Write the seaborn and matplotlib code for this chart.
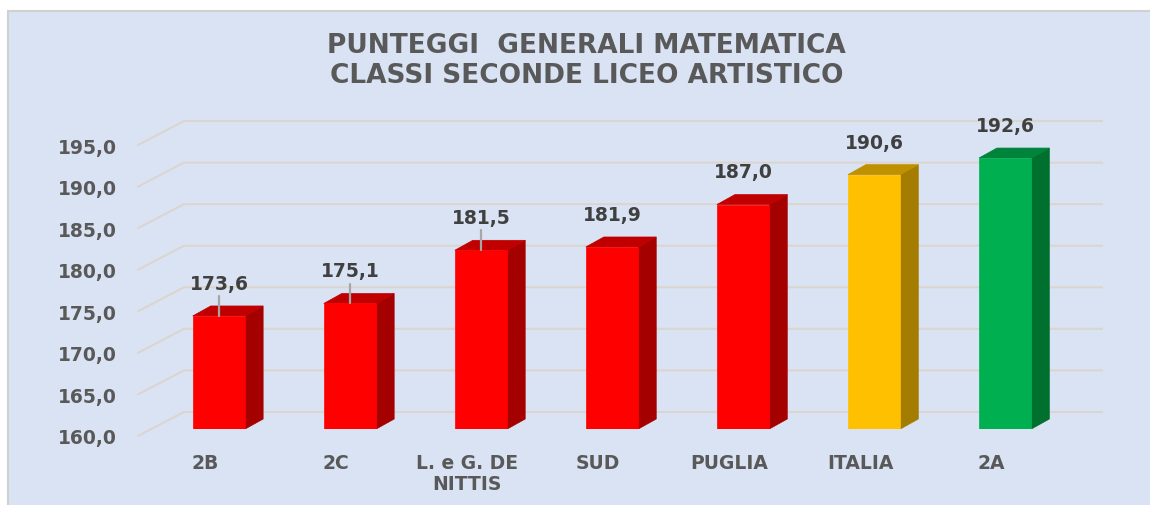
import pandas as pd
import matplotlib.pyplot as plt
import matplotlib.transforms as mtransforms
from matplotlib.patches import Polygon, Rectangle
import seaborn as sns

# Data
categories = ['2B', '2C', 'L. e G. DE\nNITTIS', 'SUD', 'PUGLIA', 'ITALIA', '2A']
scores = [173.6, 175.1, 181.5, 181.9, 187.0, 190.6, 192.6]
front_colors = ['#FF0000', '#FF0000', '#FF0000', '#FF0000', '#FF0000', '#FFC000', '#00B050']
side_colors = ['#A50000', '#A50000', '#A50000', '#A50000', '#A50000', '#A37C00', '#00702F']
top_colors = ['#C00000', '#C00000', '#C00000', '#C00000', '#C00000', '#BF9000', '#00843C']
leader_lines = [True, True, True, False, False, False, False]
y_ticks = [160, 165, 170, 175, 180, 185, 190, 195]

df = pd.DataFrame({'Classe': categories, 'Punteggio': scores})

sns.set_theme(style='white')
plt.rcParams['font.family'] = ['DejaVu Sans']

fig = plt.figure(figsize=(11.5, 5.06), dpi=100)
fig.patch.set_facecolor('white')
# chart area background
bg = Rectangle((8 / 1150, -0.01), 1.0, (506 - 12) / 506 + 0.01,
               transform=fig.transFigure, facecolor='#DAE3F3',
               edgecolor='#D0D0D0', linewidth=1.5, zorder=-5)
fig.patches.append(bg)

ax = fig.add_axes([130 / 1150, 76 / 506, 980 / 1150, 330 / 506])
ax.set_facecolor('none')
ax.set_zorder(2)

sns.barplot(data=df, x='Classe', y='Punteggio', hue='Classe', palette=front_colors,
            legend=False, width=0.40, saturation=1, ax=ax, zorder=3)

ax.set_xlim(-0.679, 6.80)
ax.set_ylim(160, 199.7)

# 3D depth offsets (data units)
dx, dy = 0.137, 1.2

for i, p in enumerate(ax.patches[:len(scores)]):
    x0 = p.get_x()
    x1 = x0 + p.get_width()
    top = scores[i]
    p.set_edgecolor(front_colors[i])
    p.set_linewidth(0.5)
    side = Polygon([(x1, 160), (x1, top), (x1 + dx, top + dy), (x1 + dx, 160 + dy)],
                   closed=True, facecolor=side_colors[i], edgecolor=side_colors[i],
                   linewidth=0.5, zorder=2)
    roof = Polygon([(x0, top), (x1, top), (x1 + dx, top + dy), (x0 + dx, top + dy)],
                   closed=True, facecolor=top_colors[i], edgecolor=top_colors[i],
                   linewidth=0.5, zorder=2)
    ax.add_patch(side)
    ax.add_patch(roof)
    cx = x0 + p.get_width() / 2
    if leader_lines[i]:
        ax.plot([cx, cx], [top, top + 2.4], color='#A6A6A6', lw=1.6, zorder=4)
    ax.annotate(f'{top:.1f}'.replace('.', ','), (cx, top), xytext=(0, 23.5),
                textcoords='offset points', ha='center', va='center',
                fontsize=13.5, fontweight='bold', color='#404040')

# perspective gridlines (floor edge -> back wall)
for v in y_ticks:
    ax.plot([-0.618, -0.267, 6.74], [v - 0.84, v + 2.05, v + 2.05],
            color='#DAD6CF', lw=1.5, zorder=1, clip_on=False)

ax.set_yticks(y_ticks)
ax.set_yticklabels([f'{v:.1f}'.replace('.', ',') for v in y_ticks])
ax.tick_params(axis='y', length=0, pad=9.5, labelsize=13.5, labelcolor='#595959')
ax.tick_params(axis='x', length=0, pad=17, labelsize=13.5, labelcolor='#595959')
for lab in ax.get_yticklabels():
    lab.set_fontweight('bold')
    lab.set_transform(lab.get_transform() + mtransforms.ScaledTranslation(0, -7 / 100, fig.dpi_scale_trans))
for lab in ax.get_xticklabels():
    lab.set_fontweight('bold')
    lab.set_linespacing(1.15)
    lab.set_transform(lab.get_transform() + mtransforms.ScaledTranslation(-14 / 100, 0, fig.dpi_scale_trans))

ax.set_xlabel('')
ax.set_ylabel('')
sns.despine(ax=ax, left=True, bottom=True)
ax.grid(False)

fig.text(0.51, 1 - 61 / 506, 'PUNTEGGI  GENERALI MATEMATICA\nCLASSI SECONDE LICEO ARTISTICO',
         ha='center', va='center', fontsize=19, fontweight='bold', color='#595959',
         linespacing=1.2, family=['DejaVu Sans'])

fig.savefig('out.png', dpi=100)
